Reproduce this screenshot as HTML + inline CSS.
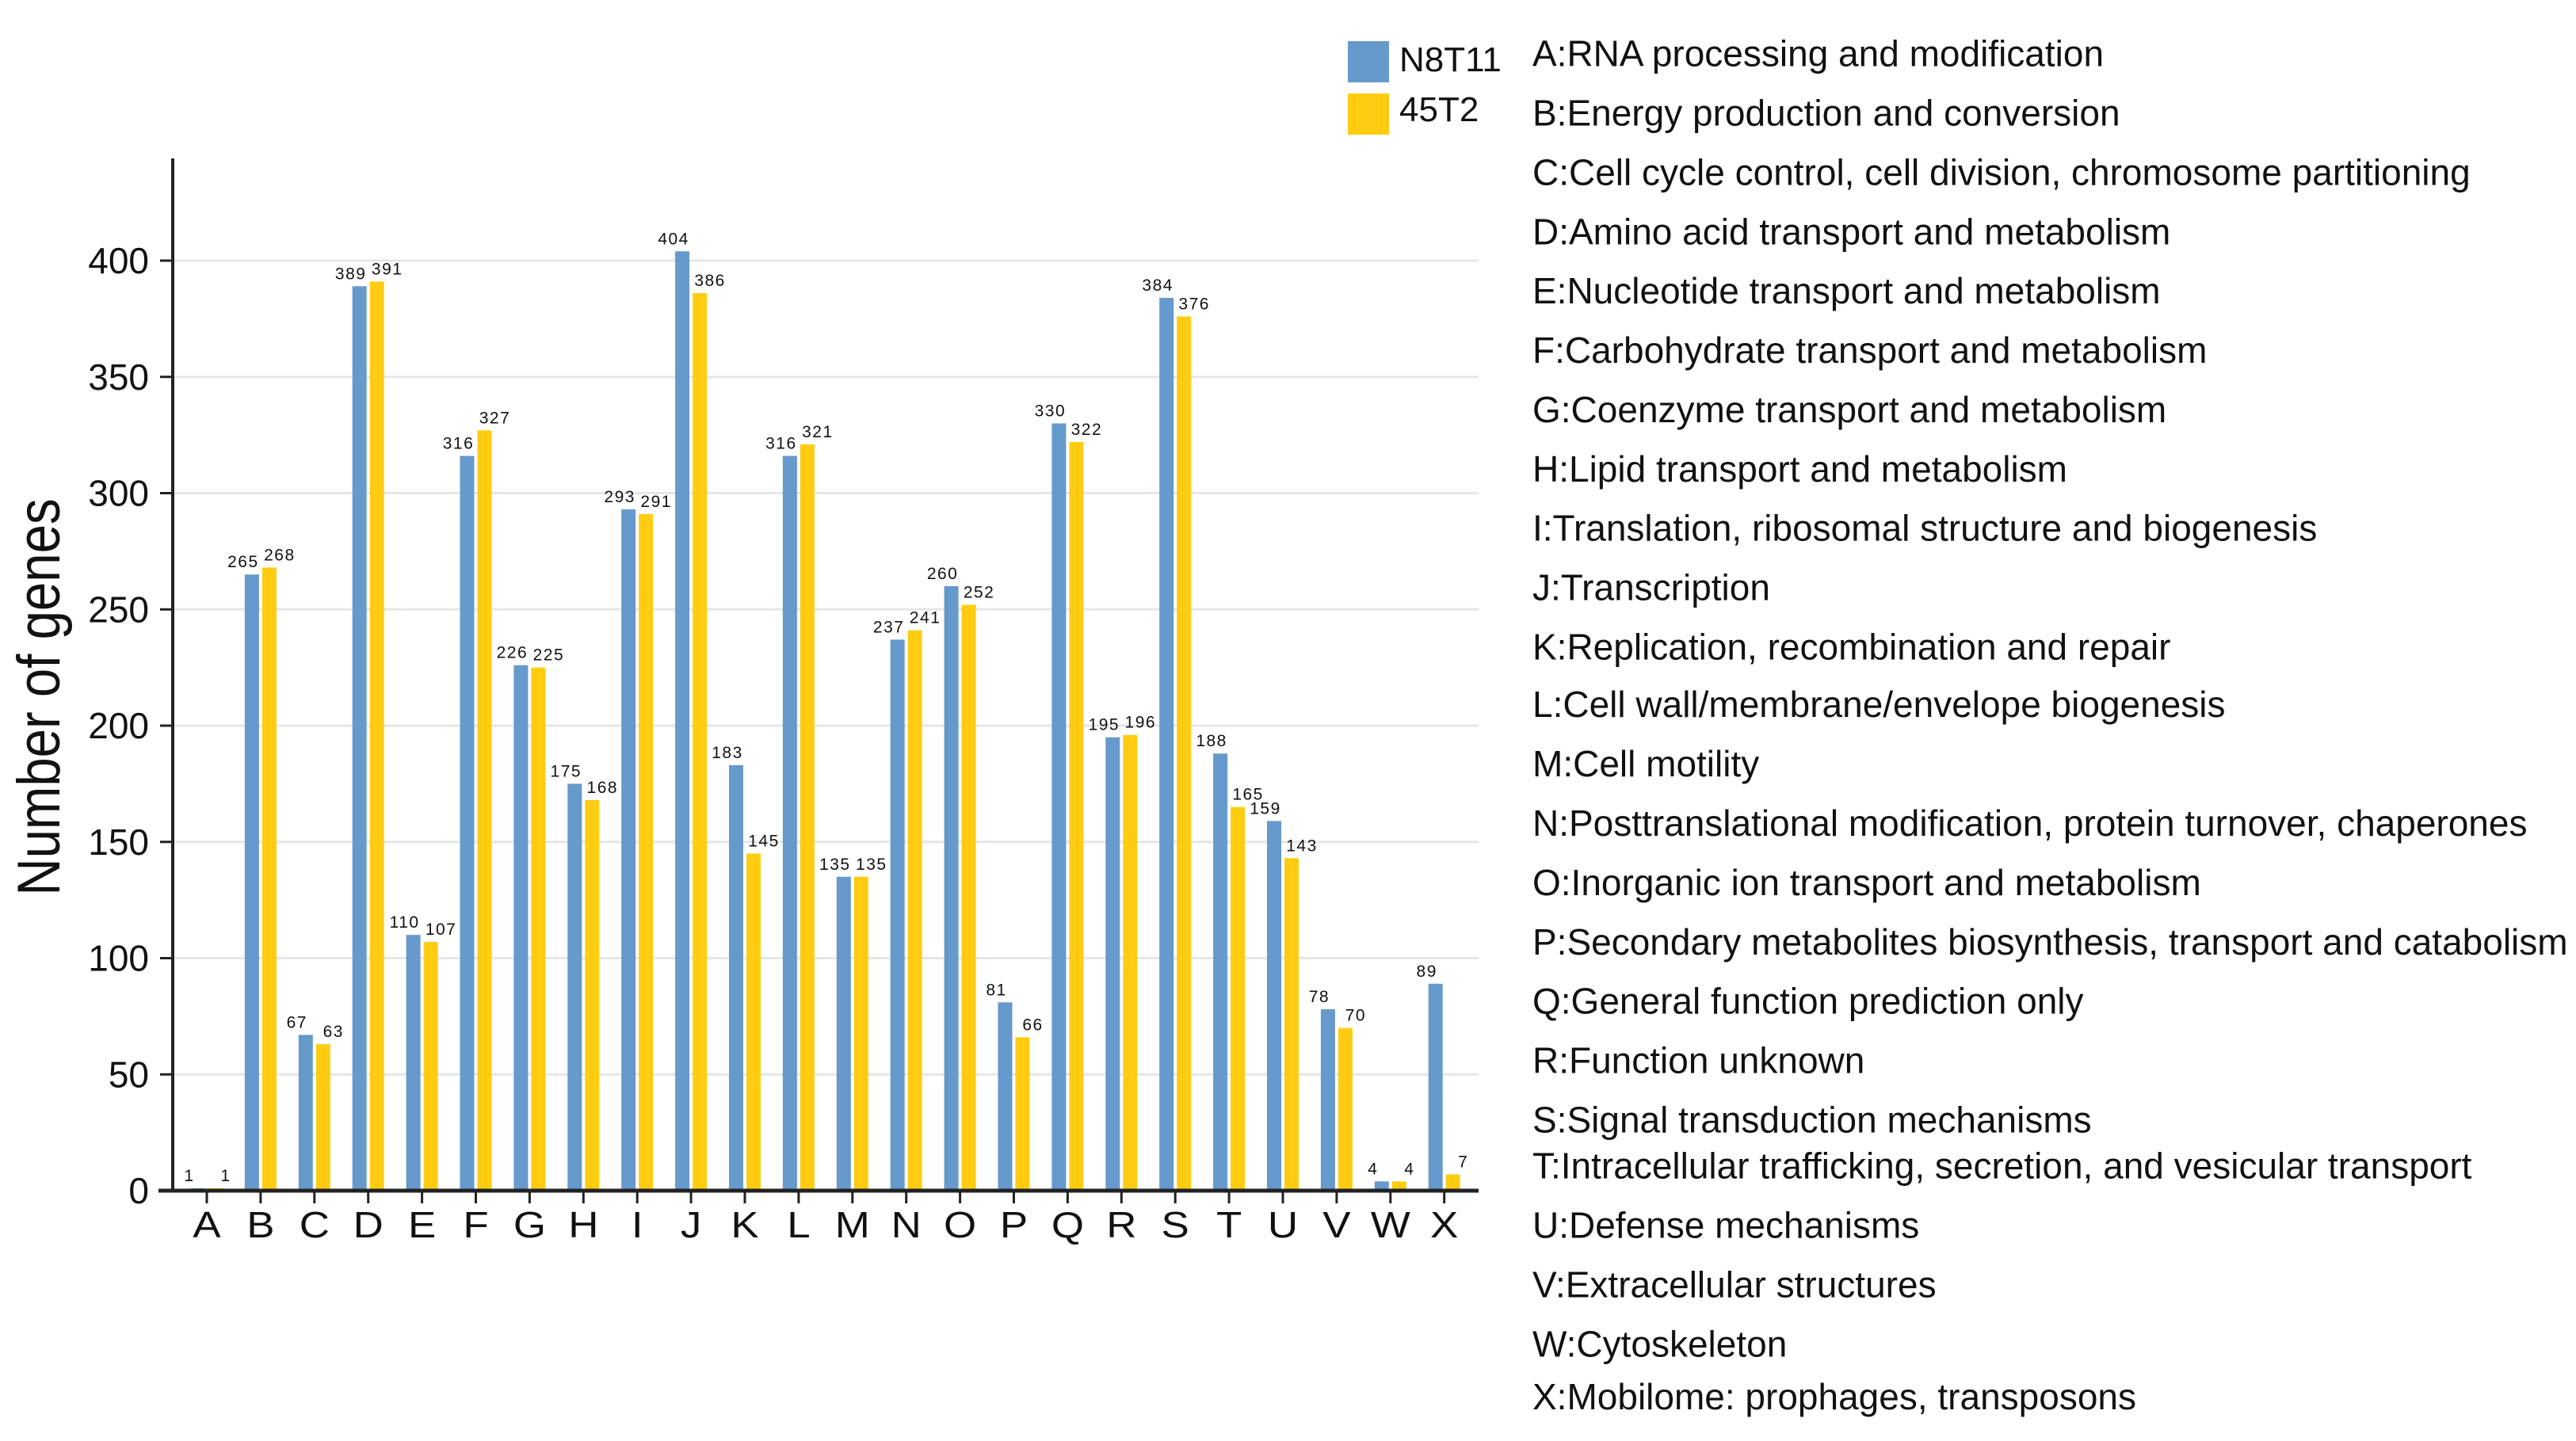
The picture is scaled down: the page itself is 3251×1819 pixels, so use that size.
<!DOCTYPE html>
<html><head><meta charset="utf-8"><style>
html,body{margin:0;padding:0;background:#fff;}
svg{display:block;}
.tk{font-family:"Liberation Sans",sans-serif;font-size:46px;fill:#111;}
.xl{font-family:"Liberation Sans",sans-serif;font-size:46px;fill:#111;letter-spacing:0;}
.vl{font-family:"Liberation Sans",sans-serif;font-size:21px;fill:#111;letter-spacing:1.5px;}
.nar{font-family:"Liberation Sans Narrow","Liberation Sans",sans-serif;fill:#111;}
</style></head><body>
<svg id="chart" width="3251" height="1819" viewBox="0 0 3251 1819" xmlns="http://www.w3.org/2000/svg">
<g id="grid"></g>
<g id="bars"></g>
<g id="axes"></g>
<text class="nar" font-size="76" transform="translate(75,880) rotate(-90) scale(0.86,1)" text-anchor="middle">Number of  genes</text>
<g>
<rect x="1701" y="52" width="52" height="52" fill="#6699CC"/>
<text class="nar" x="1766" y="90" font-size="44">N8T11</text>
<rect x="1701" y="118" width="52" height="52" fill="#FFCC11"/>
<text class="nar" x="1766" y="153" font-size="44">45T2</text>
</g>
<g id="desc"></g>
</svg>
<script>
const categories=["A","B","C","D","E","F","G","H","I","J","K","L","M","N","O","P","Q","R","S","T","U","V","W","X"];
const seriesN8T11=[1,265,67,389,110,316,226,175,293,404,183,316,135,237,260,81,330,195,384,188,159,78,4,89];
const series45T2=[1,268,63,391,107,327,225,168,291,386,145,321,135,241,252,66,322,196,376,165,143,70,4,7];
const yTicks=[0,50,100,150,200,250,300,350,400];
const descriptions=["A:RNA processing and modification","B:Energy production and conversion","C:Cell cycle control, cell division, chromosome partitioning","D:Amino acid transport and metabolism","E:Nucleotide transport and metabolism","F:Carbohydrate transport and metabolism","G:Coenzyme transport and metabolism","H:Lipid transport and metabolism","I:Translation, ribosomal structure and biogenesis","J:Transcription","K:Replication, recombination and repair","L:Cell wall/membrane/envelope biogenesis","M:Cell motility","N:Posttranslational modification, protein turnover, chaperones","O:Inorganic ion transport and metabolism","P:Secondary metabolites biosynthesis, transport and catabolism","Q:General function prediction only","R:Function unknown","S:Signal transduction mechanisms","T:Intracellular trafficking, secretion, and vesicular transport","U:Defense mechanisms","V:Extracellular structures","W:Cytoskeleton","X:Mobilome: prophages, transposons"];
const descY=[33,69,105,141,177,213,249,285,321,357,393,428,464,500,536,572,608,644,680,708,744,780,816,848];
const NS="http://www.w3.org/2000/svg";
const y0=1503,yPer=(1503-329)/400;
const ys=v=>y0-v*yPer;
const xs=i=>261+i*67.9;
function mk(tag,attrs,parent,txt){const e=document.createElementNS(NS,tag);for(const k in attrs)e.setAttribute(k,attrs[k]);if(txt!==undefined)e.textContent=txt;parent.appendChild(e);return e;}
const grid=document.getElementById('grid'),bars=document.getElementById('bars'),axes=document.getElementById('axes'),desc=document.getElementById('desc');
yTicks.forEach(t=>{
 if(t>0){const g=mk('line',{x1:218,x2:1866,y1:ys(t),y2:ys(t),stroke:'#e6e6e6','stroke-width':3},grid);
 
 }
 const l=mk('text',{x:188,y:ys(t)+16,'text-anchor':'end',class:'tk'},axes,String(t));
 
 
 const tm=mk('line',{x1:202,x2:218,y1:ys(t),y2:ys(t),stroke:'#222','stroke-width':3},axes);
 
 
});
categories.forEach((c,i)=>{
 const cx=xs(i);
 const b1=mk('rect',{x:cx-20,y:ys(seriesN8T11[i]),width:18,height:seriesN8T11[i]*yPer,fill:'#6699CC'},bars);
 
 
 const b2=mk('rect',{x:cx+2,y:ys(series45T2[i]),width:18,height:series45T2[i]*yPer,fill:'#FFCC11'},bars);
 
 
 const v1=mk('text',{x:cx-22,y:ys(seriesN8T11[i])-9,'text-anchor':'middle',class:'vl'},bars,String(seriesN8T11[i]));
 
 
 const v2=mk('text',{x:cx+24,y:ys(series45T2[i])-9,'text-anchor':'middle',class:'vl'},bars,String(series45T2[i]));
 
 
 const tk=mk('line',{x1:cx,x2:cx,y1:y0,y2:y0+16,stroke:'#222','stroke-width':3},axes);
 
 
 const tl=mk('text',{x:0,y:0,'text-anchor':'middle',class:'xl',transform:'translate('+cx+',1562) scale(1.15,1)'},axes,c);
 
 
});
const ya=mk('line',{x1:218,x2:218,y1:200,y2:1505,stroke:'#222','stroke-width':4},axes);


const xa=mk('line',{x1:200,x2:1866,y1:y0,y2:y0,stroke:'#222','stroke-width':5},axes);


descriptions.forEach((d,i)=>{
 const t=mk('text',{x:1934,y:descY[i]*2.08+15,class:'nar','font-size':46},desc,d);
 
 
});
</script>
</body></html>
